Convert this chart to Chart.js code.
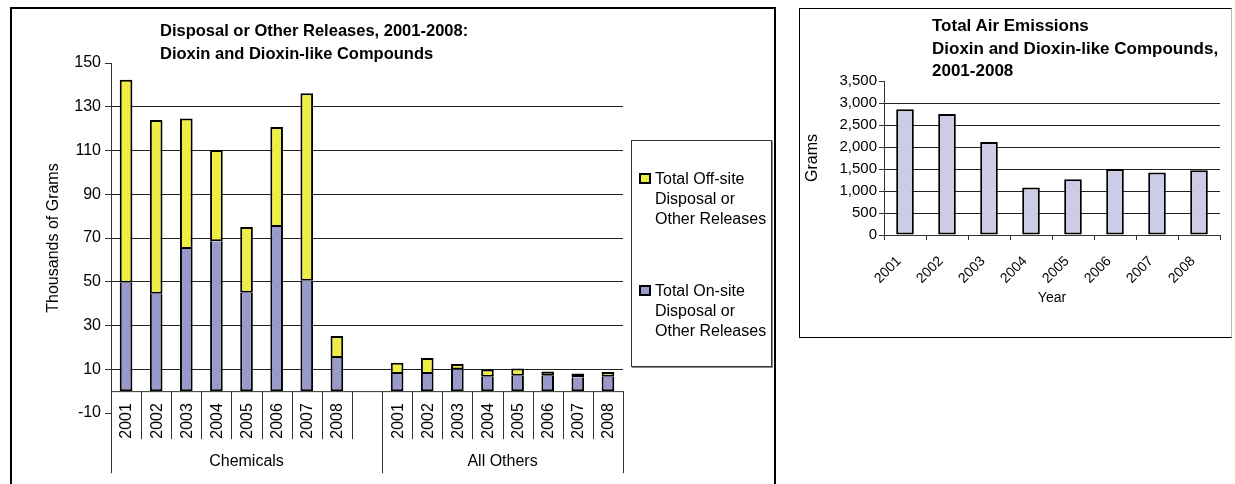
<!DOCTYPE html>
<html>
<head>
<meta charset="utf-8">
<script src="https://cdn.jsdelivr.net/npm/chart.js@4"></script>
<style>
  body { margin: 0; background: #fff; font-family: "Liberation Sans", Arial, sans-serif; }
  .frame { position: absolute; box-sizing: border-box; }
  #leftFrame { left: 10px; top: 7px; width: 766px; height: 500px; border: 2px solid #000; }
  #rightFrame { left: 799px; top: 8px; width: 433px; height: 330px; border: 1px solid #000; border-right-color: #bbb; }
  canvas { position: absolute; }
  .title { position: absolute; font-weight: bold; color: #000; white-space: nowrap; }
  #legend { position: absolute; left: 631px; top: 140px; width: 141px; height: 227px; box-sizing: border-box;
            border: 1px solid #333; box-shadow: 1px 1px 0 #888; background: #fff; }
  .item { position: absolute; left: 0; font-size: 16px; line-height: 20px; color: #000; }
  .swatch { position: absolute; left: 7px; top: 4px; width: 12px; height: 11px; box-sizing: border-box; border: 2px solid #000; }
  .item span { display: block; margin-left: 23px; white-space: nowrap; }
</style>
</head>
<body>
<div class="frame" id="leftFrame"></div>
<div class="frame" id="rightFrame"></div>
<canvas id="releasesChart" width="780" height="484" style="left:0;top:0"></canvas>
<canvas id="airChart" width="430" height="327" style="left:800px;top:9px"></canvas>
<div class="title" style="left:160px;top:19px;font-size:16.5px;line-height:23px">Disposal or Other Releases, 2001-2008:<br>Dioxin and Dioxin-like Compounds</div>
<div class="title" style="left:932px;top:15px;font-size:17px;line-height:22.5px">Total Air Emissions<br>Dioxin and Dioxin-like Compounds,<br>2001-2008</div>
<div id="legend"></div>
<script>
const years = ["2001", "2002", "2003", "2004", "2005", "2006", "2007", "2008"];
const groups = ["Chemicals", "All Others"];
const seriesNames = [
  "Total Off-site Disposal or Other Releases",
  "Total On-site Disposal or Other Releases",
];
// thousands of grams
const chemOnsite = [49.5, 44.5, 65, 68.5, 45, 75, 50.5, 15.2];
const chemOffsite = [92.8, 79.5, 59.6, 41.7, 30, 45.8, 85.7, 10];
const otherOnsite = [7.8, 7.8, 9.9, 6.6, 7, 7, 6.4, 6.6];
const otherOffsite = [5.2, 7.4, 2.5, 3.3, 3.4, 2, 1.7, 2.2];
// grams
const airGrams = [2860, 2750, 2115, 1080, 1265, 1500, 1420, 1470];

const onColor = "#9999CC";
const offColor = "#EEEE44";
const airColor = "#CCCCE6";
const FONT = "'Liberation Sans', Arial, sans-serif";
Chart.defaults.font.family = FONT;
Chart.defaults.color = "#000";

// legend (html so it wraps like the original)
const legendEl = document.getElementById("legend");
[[seriesNames[0], offColor, 28], [seriesNames[1], onColor, 140]].forEach(([name, color, top]) => {
  const item = document.createElement("div");
  item.className = "item";
  item.style.top = top + "px";
  const words = name.split(" ");
  const lines = [words.slice(0, 2).join(" "), words.slice(2, 4).join(" "), words.slice(4).join(" ")];
  item.innerHTML = `<div class="swatch" style="background:${color}"></div>` +
    lines.map((l) => `<span>${l}</span>`).join("");
  legendEl.appendChild(item);
});

// x labels: two groups of years with an empty slot between
const xLabels = [...years, "", ...years];
const onData = [...chemOnsite, null, ...otherOnsite];
const offData = [...chemOffsite, null, ...otherOffsite];

// draws the category axis at y = 0 with grouped labels underneath
const groupAxisPlugin = {
  id: "groupAxis",
  afterDatasetsDraw(chart) {
    const { ctx, chartArea } = chart;
    const x = chart.scales.x;
    const y = chart.scales.y;
    const y0 = y.getPixelForValue(0);
    const slot = (chartArea.right - chartArea.left) / xLabels.length;
    ctx.save();
    ctx.strokeStyle = "#333";
    ctx.lineWidth = 1;
    ctx.beginPath();
    ctx.moveTo(chartArea.left, y0 + 0.5);
    ctx.lineTo(chartArea.right, y0 + 0.5);
    for (let i = 0; i <= xLabels.length; i++) {
      const bx = Math.round(chartArea.left + i * slot) + 0.5;
      const long = i === 0 || i === years.length + 1 || i === xLabels.length;
      ctx.moveTo(bx, y0);
      ctx.lineTo(bx, y0 + (long ? 82 : 48));
    }
    ctx.stroke();

    ctx.fillStyle = "#000";
    ctx.font = "16px " + FONT;
    ctx.textAlign = "right";
    ctx.textBaseline = "middle";
    xLabels.forEach((lab, i) => {
      if (!lab) return;
      const cx = x.getPixelForValue(i);
      ctx.save();
      ctx.translate(cx + 1, y0 + 12);
      ctx.rotate(-Math.PI / 2);
      ctx.fillText(lab, 0, 0);
      ctx.restore();
    });
    ctx.textAlign = "center";
    const mid1 = chartArea.left + ((years.length + 1) * slot) / 2;
    const mid2 = chartArea.left + (years.length + 1) * slot + (years.length * slot) / 2;
    ctx.fillText(groups[0], mid1, y0 + 70);
    ctx.fillText(groups[1], mid2, y0 + 70);
    ctx.restore();
  },
};

new Chart(document.getElementById("releasesChart"), {
  type: "bar",
  data: {
    labels: xLabels,
    datasets: [
      // top edge skipped so the join with the off-site part is a single line
      { label: seriesNames[1], data: onData, backgroundColor: onColor, borderColor: "#000", borderWidth: 2, borderSkipped: "top" },
      { label: seriesNames[0], data: offData, backgroundColor: offColor, borderColor: "#000", borderWidth: 2, borderSkipped: false },
    ],
  },
  options: {
    responsive: false,
    animation: false,
    devicePixelRatio: 1,
    layout: { padding: { left: 44, right: 157, top: 63, bottom: 71 } },
    plugins: { legend: { display: false }, tooltip: { enabled: false } },
    datasets: { bar: { barPercentage: 0.42, categoryPercentage: 1 } },
    scales: {
      x: { stacked: true, display: false },
      y: {
        stacked: true,
        min: -10,
        max: 150,
        ticks: { stepSize: 20, font: { size: 16 }, color: "#000", padding: 4 },
        grid: {
          color: (c) => (c.tick && c.tick.value > -10 && c.tick.value < 150 ? "#222" : "rgba(0,0,0,0)"),
          tickColor: "#333",
          tickLength: 6,
        },
        border: { display: true, color: "#333" },
        title: { display: true, text: "Thousands of Grams", font: { size: 16 }, color: "#000", padding: 0 },
        afterFit: (scale) => { scale.width = 67; },
      },
    },
  },
  plugins: [groupAxisPlugin,
    {
      id: "axisExtend",
      afterDraw(chart) {
        const { ctx, chartArea } = chart;
        ctx.save();
        ctx.strokeStyle = "#333";
        ctx.beginPath();
        ctx.moveTo(Math.round(chartArea.left) + 0.5, chartArea.bottom);
        ctx.lineTo(Math.round(chartArea.left) + 0.5, chart.scales.y.getPixelForValue(0) + 82);
        ctx.stroke();
        ctx.restore();
      },
    }],
});

new Chart(document.getElementById("airChart"), {
  type: "bar",
  data: {
    labels: years,
    datasets: [{ label: "Total Air Emissions", data: airGrams, backgroundColor: airColor, borderColor: "#000", borderWidth: 2, borderSkipped: false }],
  },
  options: {
    responsive: false,
    animation: false,
    devicePixelRatio: 1,
    layout: { padding: { left: 3, right: 10, top: 72, bottom: 29 } },
    plugins: { legend: { display: false }, tooltip: { enabled: false } },
    datasets: { bar: { barPercentage: 0.42, categoryPercentage: 1 } },
    scales: {
      x: {
        ticks: { maxRotation: 45, minRotation: 45, font: { size: 14 }, color: "#000", padding: 13, labelOffset: -6 },
        grid: { drawOnChartArea: false, drawTicks: true, tickLength: 5, tickColor: "#333" },
        border: { display: true, color: "#333" },
        title: { display: true, text: "Year", font: { size: 14 }, color: "#000", padding: 0 },
        afterFit: (scale) => { scale.height = 72; },
      },
      y: {
        min: 0,
        max: 3500,
        ticks: { stepSize: 500, font: { size: 15 }, color: "#000", padding: 2, callback: (v) => v.toLocaleString("en-US") },
        grid: {
          color: (c) => (c.tick && c.tick.value > 0 && c.tick.value < 3500 ? "#222" : "rgba(0,0,0,0)"),
          tickColor: "#333",
          tickLength: 5,
        },
        border: { display: true, color: "#333" },
        title: { display: true, text: "Grams", font: { size: 16 }, color: "#000", padding: 0 },
        afterFit: (scale) => { scale.width = 81; },
      },
    },
  },
});
</script>
</body>
</html>
